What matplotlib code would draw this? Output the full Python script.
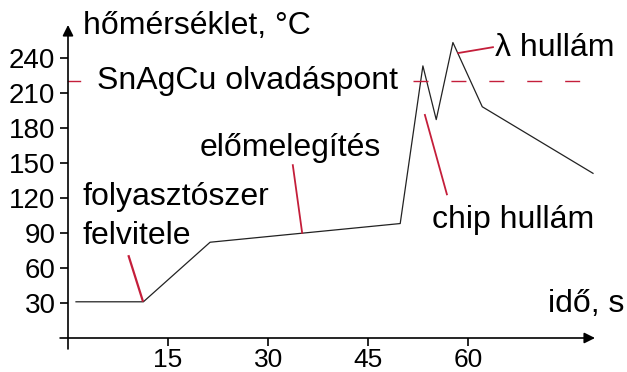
import matplotlib.pyplot as plt

plt.rcParams['font.family'] = ['Liberation Sans', 'DejaVu Sans']

# reflow soldering profile
time = [1.2, 11.3, 21.3, 49.8, 53.2, 55.2, 57.7, 62.1, 78.7]
temp = [31, 31, 82, 98, 233, 187, 253, 198, 141]
melt_temp = 220

xticks = [15, 30, 45, 60]
yticks = [30, 60, 90, 120, 150, 180, 210, 240]

red = '#c41e3a'
fs = 23
tfs = 20

fig = plt.figure(figsize=(6.27, 3.72), dpi=100)
ax = fig.add_axes([68 / 627, 34 / 372, 527 / 627, 313 / 372])
ax.set_xlim(0, 79)
ax.set_ylim(0, 268)
for s in ax.spines.values():
    s.set_visible(False)

# axes with arrow heads
ax.annotate('', xy=(0, 1), xycoords='axes fraction', xytext=(0, -0.035),
            arrowprops=dict(arrowstyle='-|>', color='black', lw=1.2,
                            mutation_scale=16, shrinkA=0, shrinkB=0))
ax.annotate('', xy=(1, 0), xycoords='axes fraction', xytext=(-0.015, 0),
            arrowprops=dict(arrowstyle='-|>', color='black', lw=1.2,
                            mutation_scale=16, shrinkA=0, shrinkB=0))

ax.set_xticks(xticks)
ax.set_yticks(yticks)
ax.tick_params(axis='x', direction='out', length=6, width=1.2, labelsize=19, pad=1)
ax.tick_params(axis='y', direction='out', length=6, width=1.2, labelsize=tfs, pad=3)

ax.plot(time, temp, color='#222222', lw=0.9, clip_on=False)

# melting point of SnAgCu
ax.plot([0, 1.8], [melt_temp, melt_temp], color=red, lw=1.0, clip_on=False)
ax.plot([51.7, 78], [melt_temp, melt_temp], color=red, lw=1.0,
        dashes=(10.8, 16.5), clip_on=False)
ax.text(4.3, melt_temp, 'SnAgCu olvadáspont', fontsize=fs, va='center', ha='left')

# leader lines
ax.plot([58.5, 63.7], [244, 249], color=red, lw=1.3)
ax.plot([53.5, 56.8], [191, 123], color=red, lw=1.3)
ax.plot([33.7, 35.1], [148, 90], color=red, lw=1.3)
ax.plot([9.1, 11.2], [70, 32], color=red, lw=1.6)

ax.text(64.0, 248, 'λ hullám', fontsize=fs, va='center', ha='left')
ax.text(54.6, 101, 'chip hullám', fontsize=fs, va='center', ha='left')
ax.text(19.8, 163, 'előmelegítés', fontsize=fs, va='center', ha='left')
ax.text(2.2, 121, 'folyasztószer', fontsize=fs, va='center', ha='left')
ax.text(2.2, 87, 'felvitele', fontsize=fs, va='center', ha='left')

ax.text(2.2, 267, 'hőmérséklet, °C', fontsize=fs, va='center', ha='left', clip_on=False)
ax.text(72.0, 29, 'idő, s', fontsize=fs, va='center', ha='left', clip_on=False)

fig.savefig('out.png', dpi=100)
